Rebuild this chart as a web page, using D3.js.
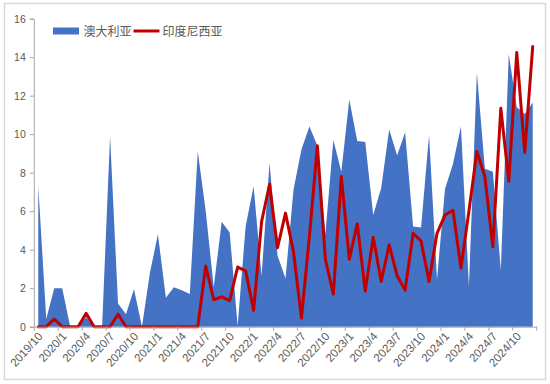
<!DOCTYPE html>
<html>
<head>
<meta charset="utf-8">
<script src="https://cdn.jsdelivr.net/npm/d3@7"></script>
<style>
  html, body { margin: 0; padding: 0; background: #fff; }
  svg { display: block; }
</style>
</head>
<body>
<svg id="chart" width="550" height="384"></svg>
<script>
const categories = [
  "2019/10","2019/11","2019/12",
  "2020/1","2020/2","2020/3","2020/4","2020/5","2020/6","2020/7","2020/8","2020/9","2020/10","2020/11","2020/12",
  "2021/1","2021/2","2021/3","2021/4","2021/5","2021/6","2021/7","2021/8","2021/9","2021/10","2021/11","2021/12",
  "2022/1","2022/2","2022/3","2022/4","2022/5","2022/6","2022/7","2022/8","2022/9","2022/10","2022/11","2022/12",
  "2023/1","2023/2","2023/3","2023/4","2023/5","2023/6","2023/7","2023/8","2023/9","2023/10","2023/11","2023/12",
  "2024/1","2024/2","2024/3","2024/4","2024/5","2024/6","2024/7","2024/8","2024/9","2024/10","2024/11","2024/12"
];
const australia = [
  7.3,0.4,2.0,2.0,0,0,0.5,0,0,9.9,
  1.2,0.65,1.95,0,2.8,4.8,1.5,2.05,1.9,1.7,
  9.1,6.0,2.05,5.45,4.9,0.05,5.2,7.3,2.65,8.5,
  3.7,2.5,7.1,9.2,10.4,9.4,4.8,9.7,8.05,11.8,
  9.65,9.6,5.8,7.2,10.25,8.9,10.1,5.2,5.15,9.95,
  2.45,7.15,8.45,10.4,2.1,13.2,8.2,8.05,2.95,14.15,
  11.4,11.05,11.65
];
const indonesia = [
  0,0,0.4,0,0,0,0.7,0,0,0,
  0.65,0,0,0,0,0,0,0,0,0,
  0,3.15,1.4,1.55,1.35,3.1,2.9,0.85,5.45,7.4,
  4.1,5.9,3.9,0.45,4.7,9.4,3.5,1.7,7.8,3.5,
  5.35,1.85,4.65,2.35,4.25,2.65,1.9,4.85,4.45,2.35,
  4.85,5.8,6.05,3.05,6.0,9.1,7.8,4.15,11.35,7.55,
  14.25,9.05,14.55
];
const yTicks = [0,2,4,6,8,10,12,14,16];
const xTickLabels = categories.filter((d,i) => i % 3 === 0);
const seriesNames = ["澳大利亚","印度尼西亚"];

const svg = d3.select("#chart");
const blue = "#4472c4", red = "#c00000";
const axisColor = "#a6a6a6", textColor = "#595959";
const font = "'Liberation Sans', Arial, sans-serif";
const cjk = "'Noto Sans CJK SC', sans-serif";

// outer border
svg.append("rect").attr("x", 4.5).attr("y", 3.5).attr("width", 541).attr("height", 376)
  .attr("fill", "#fff").attr("stroke", "#d9d9d9").attr("stroke-width", 1.5);

const x = d3.scaleBand().domain(categories).range([34.3, 536.7]).padding(0);
const bw = x.bandwidth();
const cx = d => x(d) + bw / 2;
const y = d3.scaleLinear().domain([0, 16]).range([326.7, 18.7]);

// area
const area = d3.area()
  .x((d, i) => cx(categories[i]))
  .y0(y(0))
  .y1(d => y(d));
svg.append("path").datum(australia).attr("d", area).attr("fill", blue);

// line
const line = d3.line()
  .x((d, i) => cx(categories[i]))
  .y(d => y(d));
svg.append("path").datum(indonesia).attr("d", line)
  .attr("fill", "none").attr("stroke", red).attr("stroke-width", 3)
  .attr("stroke-linejoin", "round").attr("stroke-linecap", "round");

// y axis
const yAxis = svg.append("g").attr("transform", "translate(33.8,0)")
  .call(d3.axisLeft(y).tickValues(yTicks).tickSize(4).tickPadding(4));
yAxis.select(".domain").attr("stroke", axisColor);
yAxis.selectAll(".tick line").attr("stroke", axisColor);
yAxis.selectAll(".tick text").attr("fill", textColor).style("font-family", font).style("font-size", "10.5px");

// x axis
const xAxis = svg.append("g").attr("transform", `translate(0,${y(0)})`)
  .call(d3.axisBottom(x).tickValues(xTickLabels).tickSize(4).tickSizeOuter(0));
xAxis.select(".domain").attr("stroke", axisColor);
xAxis.selectAll(".tick line").attr("stroke", axisColor).attr("x1", -bw/2).attr("x2", -bw/2);
xAxis.append("line").attr("x1", 536.7).attr("x2", 536.7).attr("y1", 0).attr("y2", 4).attr("stroke", axisColor);
xAxis.selectAll(".tick text")
  .attr("fill", textColor).style("font-family", font).style("font-size", "11.5px")
  .attr("text-anchor", "end").attr("dy", null).attr("y", null)
  .attr("transform", "translate(5,10) rotate(-48)");

// legend
const lg = svg.append("g");
lg.append("rect").attr("x", 53).attr("y", 27.5).attr("width", 26).attr("height", 7).attr("fill", blue);
lg.append("text").attr("x", 83.5).attr("y", 35.5).text(seriesNames[0])
  .attr("fill", textColor).style("font-family", cjk).style("font-size", "12px");
lg.append("line").attr("x1", 133.5).attr("x2", 159.5).attr("y1", 31).attr("y2", 31)
  .attr("stroke", red).attr("stroke-width", 3);
lg.append("text").attr("x", 162.5).attr("y", 35.5).text(seriesNames[1])
  .attr("fill", textColor).style("font-family", cjk).style("font-size", "12px");
</script>
</body>
</html>
